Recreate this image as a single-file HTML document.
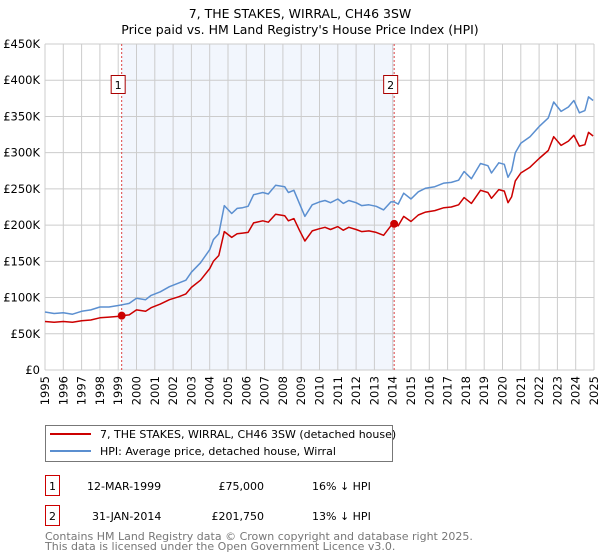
<!DOCTYPE html>
<html><head><meta charset="utf-8"><style>
body{margin:0;background:#fff;}
svg{display:block;font-family:"DejaVu Sans","Liberation Sans",sans-serif;}
</style></head><body>
<svg id="c" width="600" height="560" viewBox="0 0 600 560">
<text x="300" y="18" text-anchor="middle" font-size="12.5">7, THE STAKES, WIRRAL, CH46 3SW</text>
<text x="300" y="34" text-anchor="middle" font-size="12.5">Price paid vs. HM Land Registry's House Price Index (HPI)</text>
<g id="plot"></g>
<rect x="45.5" y="425.5" width="347" height="36" fill="#fff" stroke="#777"/>
<line x1="50" y1="434" x2="91" y2="434" stroke="#cc0000" stroke-width="2"/>
<text x="100" y="438" font-size="11">7, THE STAKES, WIRRAL, CH46 3SW (detached house)</text>
<line x1="50" y1="451" x2="91" y2="451" stroke="#5b8fd0" stroke-width="2"/>
<text x="100" y="455" font-size="11">HPI: Average price, detached house, Wirral</text>
<rect x="45.5" y="475.5" width="14" height="20" fill="#fff" stroke="#cc0000"/>
<text x="52.5" y="490" text-anchor="middle" font-size="11">1</text>
<text x="87" y="490" font-size="11">12-MAR-1999</text>
<text x="264" y="490" text-anchor="end" font-size="11">£75,000</text>
<text x="312" y="490" font-size="11">16% ↓ HPI</text>
<rect x="45.5" y="505.5" width="14" height="20" fill="#fff" stroke="#cc0000"/>
<text x="52.5" y="520" text-anchor="middle" font-size="11">2</text>
<text x="92" y="520" font-size="11">31-JAN-2014</text>
<text x="264" y="520" text-anchor="end" font-size="11">£201,750</text>
<text x="312" y="520" font-size="11">13% ↓ HPI</text>
<text x="45" y="540" font-size="11" fill="#777">Contains HM Land Registry data © Crown copyright and database right 2025.</text>
<text x="45" y="550" font-size="11" fill="#777">This data is licensed under the Open Government Licence v3.0.</text>
</svg>
<script>
const years=[1995.0,1995.5,1996.0,1996.5,1997.0,1997.5,1998.0,1998.5,1999.0,1999.2,1999.6,2000.0,2000.5,2000.8,2001.3,2001.8,2002.3,2002.7,2003.0,2003.5,2004.0,2004.2,2004.5,2004.8,2005.2,2005.5,2005.8,2006.1,2006.4,2006.9,2007.2,2007.6,2008.1,2008.3,2008.6,2008.9,2009.2,2009.6,2010.0,2010.3,2010.6,2011.0,2011.3,2011.6,2012.0,2012.3,2012.7,2013.1,2013.5,2013.9,2014.08,2014.3,2014.6,2015.0,2015.4,2015.8,2016.3,2016.8,2017.2,2017.6,2017.9,2018.3,2018.8,2019.2,2019.4,2019.8,2020.1,2020.3,2020.5,2020.7,2021.0,2021.5,2022.0,2022.5,2022.8,2023.2,2023.6,2023.9,2024.2,2024.5,2024.7,2024.95];
const hpiValues=[80,78,79,77,81,83,87,87,89,90,92,99,97,103,108,115,120,124,135,148,166,180,188,227,216,223,224,226,242,245,243,255,253,245,248,230,212,228,232,234,231,236,230,234,231,227,228,226,221,232,232,229,244,236,246,251,253,258,259,262,274,264,285,282,272,286,284,266,275,300,313,322,336,348,370,357,363,372,355,358,377,372];
const priceValues=[67,66,67,66,68,69,72,73,74,75,76,83,81,86,91,97,101,105,114,124,140,150,158,191,183,188,189,190,203,206,204,215,213,206,209,193,178,192,195,197,194,198,193,197,194,191,192,190,186,199,202,199,212,205,214,218,220,224,225,228,238,230,248,245,237,249,247,231,239,261,272,280,292,303,322,310,316,324,309,311,328,323];
const saleYears=[1999.19,2014.08];
const saleValues=[75,201.75];
const saleLabels=["1","2"];
const yTicks=[0,50,100,150,200,250,300,350,400,450];
const yTickLabels=["£0","£50K","£100K","£150K","£200K","£250K","£300K","£350K","£400K","£450K"];
const xTicks=[1995,1996,1997,1998,1999,2000,2001,2002,2003,2004,2005,2006,2007,2008,2009,2010,2011,2012,2013,2014,2015,2016,2017,2018,2019,2020,2021,2022,2023,2024,2025];

const X0=45,X1=594,Y0=370,Y1=44;
const xs=y=>X0+(y-1995)/30*(X1-X0);
const ys=v=>Y0-v/450*(Y0-Y1);
const NS="http://www.w3.org/2000/svg";
const g=document.getElementById('plot');
function mk(t,a){const e=document.createElementNS(NS,t);for(const k in a)e.setAttribute(k,a[k]);g.appendChild(e);return e;}

let e=mk('rect',{x:xs(saleYears[0]),y:Y1,width:xs(saleYears[1])-xs(saleYears[0]),height:Y0-Y1,fill:'#f2f6fd'});


xTicks.forEach((t,i)=>{
 const l=mk('line',{x1:xs(t),x2:xs(t),y1:Y1,y2:Y0,stroke:'#cccccc','stroke-width':1});
 
 
 const tx=mk('text',{x:0,y:0,'font-size':11.5,'text-anchor':'end',transform:`translate(${xs(t)+4},${Y0+6}) rotate(-90)`});
 tx.textContent=t;
 
 
});
yTicks.forEach((t,i)=>{
 const l=mk('line',{x1:X0,x2:X1,y1:ys(t),y2:ys(t),stroke:'#cccccc','stroke-width':1});
 
 
 const tx=mk('text',{x:40,y:ys(t)+4,'font-size':11.5,'text-anchor':'end'});
 tx.textContent=yTickLabels[i];
 
 
});
saleYears.forEach((s,i)=>{
 const l=mk('line',{x1:xs(s),x2:xs(s),y1:Y1,y2:Y0,stroke:'#dd4444','stroke-width':1,'stroke-dasharray':'2,2'});
 
 
 const r=mk('rect',{x:xs(s)-10.5,y:75.5,width:14,height:18,fill:'#fff',stroke:'#aa0000'});
 
 
 const tx=mk('text',{x:xs(s)-3.5,y:89,'font-size':11,'text-anchor':'middle'});
 tx.textContent=saleLabels[i];
 
 
});
function path(vals,col,name){
 const d=vals.map((v,i)=>(i?'L':'M')+xs(years[i]).toFixed(1)+','+ys(v).toFixed(1)).join('');
 const p=mk('path',{d:d,fill:'none',stroke:col,'stroke-width':1.5,'stroke-linejoin':'round'});
 
 
}
path(hpiValues,'#5b8fd0','hpi-line');
path(priceValues,'#cc0000','price-line');
saleYears.forEach((s,i)=>{
 const c=mk('circle',{cx:xs(s),cy:ys(saleValues[i]),r:4,fill:'#cc0000'});
 
 
});
</script>
</body></html>
